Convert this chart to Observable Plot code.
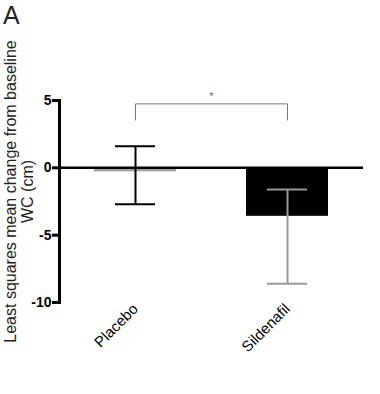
<!DOCTYPE html>
<html>
<head>
<meta charset="utf-8">
<script src="https://cdn.jsdelivr.net/npm/d3@7"></script>
<script src="https://cdn.jsdelivr.net/npm/@observablehq/plot@0.6"></script>
<style>
  html, body { margin: 0; padding: 0; background: #fff; }
  #panel { font-family: "Liberation Sans", Arial, sans-serif; font-size: 25px; color: #222; height: 30px; line-height: 30px; padding-left: 3px; }
</style>
</head>
<body>
<div id="panel">A</div>
<div id="chart"></div>
<script>
const groups = ["Placebo", "Sildenafil"];
const means = [-0.3, -3.6];
const errLow = [-2.7, -8.6];
const errHigh = [1.6, -1.6];
const barColors = ["#a0a0a0", "#000000"];
const errColors = ["#000000", "#999999"];
const yTicks = [5, 0, -5, -10];
const yLabel = "Least squares mean change from baseline\nWC (cm)";
const bracketTop = 4.75;
const bracketLeg = 3.55;
const starY = 5.3;
const starText = "*";

const data = groups.map((g, i) => ({
  group: g, mean: means[i], lo: errLow[i], hi: errHigh[i],
  fill: barColors[i], err: errColors[i]
}));
const bracket = [
  {group: groups[0], y: bracketLeg},
  {group: groups[0], y: bracketTop},
  {group: groups[1], y: bracketTop},
  {group: groups[1], y: bracketLeg}
];

const chart = Plot.plot({
  width: 380,
  height: 364,
  marginLeft: 59,
  marginRight: 17,
  marginTop: 70,
  marginBottom: 92,
  style: {fontFamily: "'Liberation Sans', Arial, sans-serif", background: "#fff", color: "#000", overflow: "visible"},
  x: {domain: groups, paddingInner: 0.46, paddingOuter: 0.23},
  y: {domain: [-10, 5]},
  marks: [
    Plot.barY(data, {x: "group", y: "mean", fill: "fill"}),
    Plot.ruleY([0], {stroke: "#000", strokeWidth: 2.5}),
    Plot.ruleX(data, {x: "group", y1: "lo", y2: "hi", stroke: "err", strokeWidth: 2}),
    Plot.tickY(data, {x: "group", y: "lo", stroke: "err", strokeWidth: 2, insetLeft: 21, insetRight: 21}),
    Plot.tickY(data, {x: "group", y: "hi", stroke: "err", strokeWidth: 2, insetLeft: 21, insetRight: 21}),
    Plot.line(bracket, {x: "group", y: "y", stroke: "#777", strokeWidth: 1}),
    Plot.text([starText], {text: d => d, y: () => starY, frameAnchor: "middle", fontSize: 11, fill: "#666"}),
    Plot.frame({anchor: "left", stroke: "#000", strokeWidth: 3}),
    Plot.axisY({ticks: yTicks, tickFormat: d => String(d), tickSize: 7, tickPadding: 1, strokeWidth: 3, fontSize: 14, fontWeight: "bold", label: null}),
    Plot.text([yLabel], {text: d => d, frameAnchor: "left", textAnchor: "middle", rotate: -90, dx: -40, dy: -10, fontSize: 16, fill: "#222", lineHeight: 1.05}),
    Plot.axisX({tickSize: 0, tickPadding: 4, tickRotate: -45, fontSize: 15, label: null})
  ]
});
document.getElementById("chart").appendChild(chart);
</script>
</body>
</html>
